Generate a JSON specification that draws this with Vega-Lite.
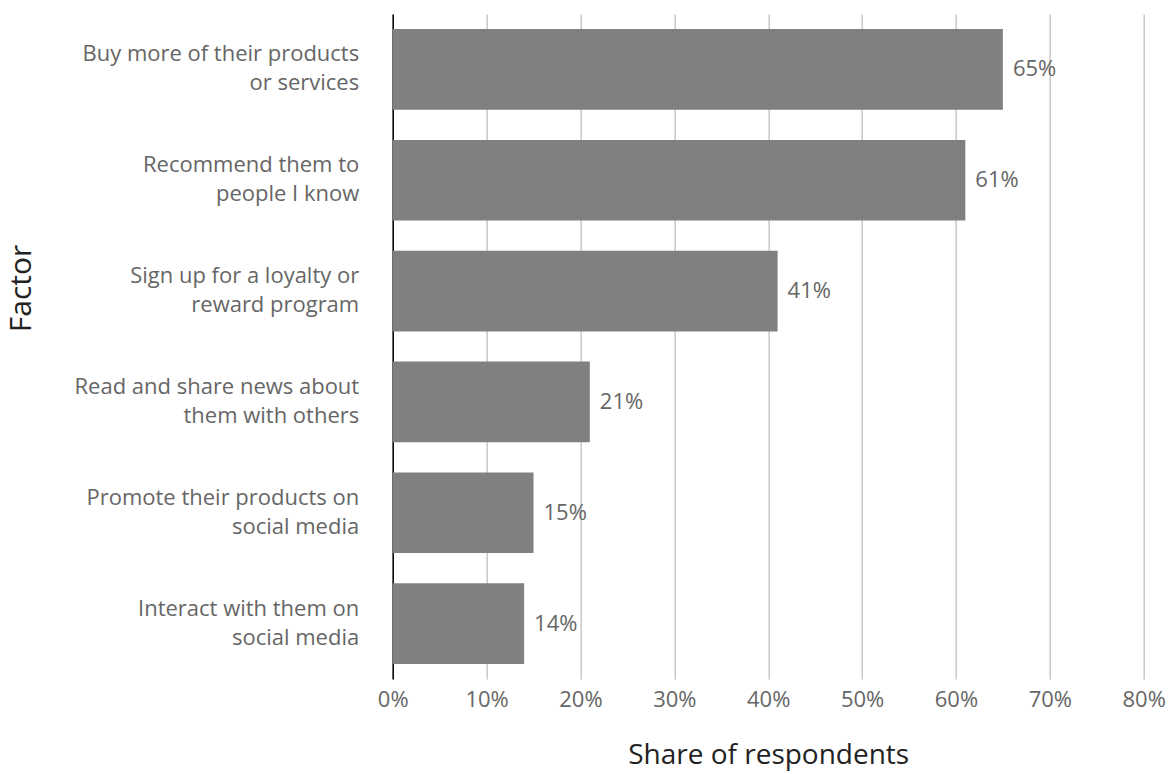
{
  "$schema": "https://vega.github.io/schema/vega-lite/v6.json",
  "autosize": "none",
  "width": 751,
  "height": 665,
  "padding": {"left": 392.7, "top": 14, "right": 27, "bottom": 95},
  "background": "white",
  "config": {
    "view": {"stroke": null},
    "font": "Open Sans"
  },
  "data": {
    "values": [
      {"factor": "Buy more of their products|or services", "share": 0.65, "label": "65%"},
      {"factor": "Recommend them to|people I know", "share": 0.61, "label": "61%"},
      {"factor": "Sign up for a loyalty or|reward program", "share": 0.41, "label": "41%"},
      {"factor": "Read and share news about|them with others", "share": 0.21, "label": "21%"},
      {"factor": "Promote their products on|social media", "share": 0.15, "label": "15%"},
      {"factor": "Interact with them on|social media", "share": 0.14, "label": "14%"}
    ]
  },
  "encoding": {
    "y": {
      "field": "factor",
      "type": "nominal",
      "sort": null,
      "scale": {"paddingInner": 0.272, "paddingOuter": 0.136},
      "axis": {
        "title": "Factor",
        "titleFont": "Open Sans",
        "titleFontSize": 30,
        "titleFontWeight": "normal",
        "titleColor": "#222222",
        "titleX": -371,
        "titleY": 274,
        "titleAngle": -90,
        "titleAlign": "center",
        "titleBaseline": "middle",
        "labelExpr": "split(datum.label, '|')",
        "labelFont": "Open Sans",
        "labelFontSize": 22,
        "labelColor": "#666666",
        "labelLineHeight": 29,
        "labelOffset": -15,
        "labelPadding": 34,
        "labelLimit": 400,
        "ticks": false,
        "domain": true,
        "domainColor": "#000000",
        "domainWidth": 1.5,
        "grid": false
      }
    },
    "x": {
      "field": "share",
      "type": "quantitative",
      "scale": {"domain": [0, 0.8], "nice": false},
      "axis": {
        "title": "Share of respondents",
        "titleFont": "Open Sans",
        "titleFontSize": 28,
        "titleFontWeight": "normal",
        "titleColor": "#222222",
        "titlePadding": 31,
        "format": ".0%",
        "values": [0, 0.1, 0.2, 0.3, 0.4, 0.5, 0.6, 0.7, 0.8],
        "labelFont": "Open Sans",
        "labelFontSize": 22,
        "labelColor": "#666666",
        "labelPadding": 11,
        "labelFlush": false,
        "ticks": false,
        "domain": false,
        "grid": true,
        "gridColor": "#c8c8c8",
        "gridWidth": 1.5
      }
    }
  },
  "layer": [
    {
      "mark": {"type": "bar", "color": "#808080"}
    },
    {
      "mark": {"type": "text", "align": "left", "baseline": "middle", "dx": 10, "fontSize": 22, "color": "#666666", "font": "Open Sans"},
      "encoding": {"text": {"field": "label"}}
    }
  ]
}
